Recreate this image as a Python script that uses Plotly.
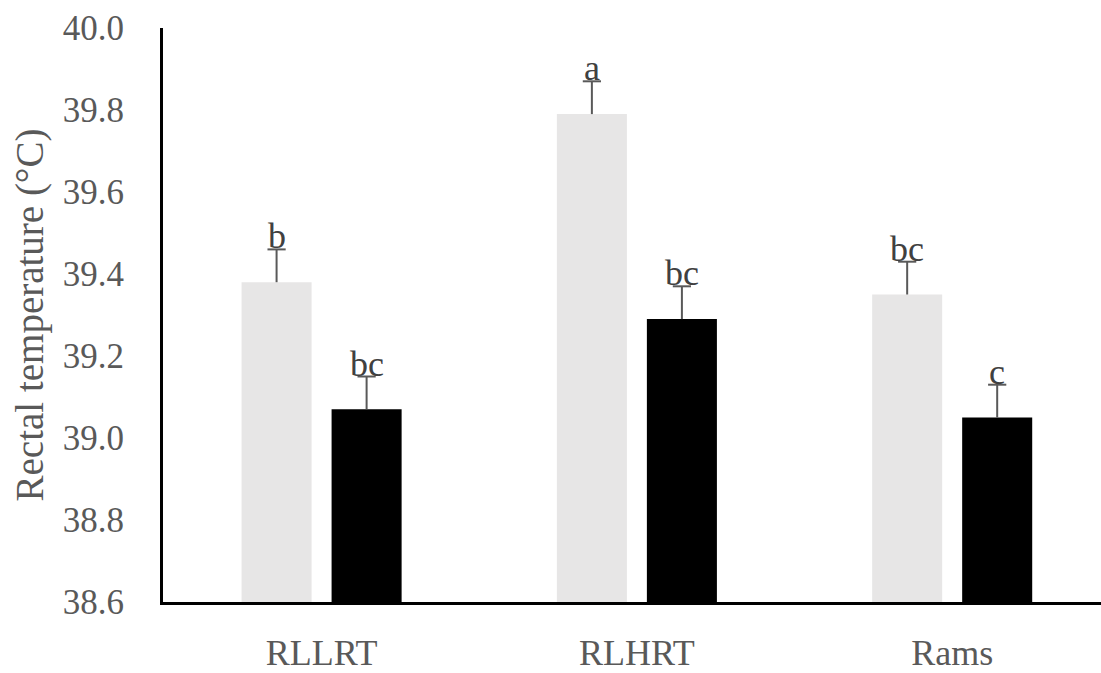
import plotly.graph_objects as go

# Rectal temperature by group, two treatment series
groups = ["RLLRT", "RLHRT", "Rams"]
light_means = [39.38, 39.79, 39.35]
light_se = [0.08, 0.08, 0.08]
light_letters = ["b", "a", "bc"]
dark_means = [39.07, 39.29, 39.05]
dark_se = [0.08, 0.08, 0.08]
dark_letters = ["bc", "bc", "c"]

y_ticks = [38.6, 38.8, 39.0, 39.2, 39.4, 39.6, 39.8, 40.0]

SERIF = "Liberation Serif"
GREY_TXT = "#595959"
ERR_COL = "#595959"

BARGAP = 0.429
GROUPGAP = 0.222
slot = (1 - BARGAP) / 2

pos = list(range(len(groups)))

fig = go.Figure()

series = [
    (light_means, light_se, light_letters, "#e7e6e6"),
    (dark_means, dark_se, dark_letters, "#000000"),
]

for k, (means, se, letters, color) in enumerate(series):
    fig.add_trace(go.Bar(
        x=pos, y=means,
        marker=dict(color=color, line=dict(width=0)),
        showlegend=False,
    ))

# Upper error bars (stem + cap) and significance letters
for k, (means, se, letters, color) in enumerate(series):
    xs, ys, cx, cy = [], [], [], []
    for i in pos:
        xc = i + (k - 0.5) * slot
        top = means[i] + se[i]
        xs += [xc, xc, None]
        ys += [means[i], top, None]
        cx.append(xc)
        cy.append(top)
        fig.add_annotation(
            x=xc, y=top, xref="x", yref="y",
            text=letters[i], showarrow=False,
            yanchor="bottom", yshift=-9,
            font=dict(family=SERIF, size=36, color="#404040"),
        )
    fig.add_trace(go.Scatter(
        x=xs, y=ys, mode="lines",
        line=dict(color=ERR_COL, width=2),
        hoverinfo="skip", showlegend=False,
    ))
    fig.add_trace(go.Scatter(
        x=cx, y=cy, mode="markers",
        marker=dict(symbol="line-ew", size=13,
                    line=dict(color=ERR_COL, width=2)),
        hoverinfo="skip", showlegend=False,
    ))

fig.update_layout(
    width=1101, height=673,
    margin=dict(l=163, r=0, t=28, b=65),
    paper_bgcolor="white", plot_bgcolor="white",
    barmode="group", bargap=BARGAP, bargroupgap=GROUPGAP,
    xaxis=dict(
        range=[-0.503, 2.472], tickvals=pos, ticktext=groups,
        showline=True, linecolor="black", linewidth=3,
        showgrid=False, zeroline=False, ticks="", ticklabelstandoff=17,
        tickfont=dict(family=SERIF, size=36, color=GREY_TXT),
    ),
    yaxis=dict(
        range=[38.6, 40.0], tickvals=y_ticks, tickformat=".1f",
        showline=True, linecolor="black", linewidth=3,
        showgrid=False, zeroline=False, ticks="", ticklabelstandoff=29,
        tickfont=dict(family=SERIF, size=35, color=GREY_TXT),
        title=dict(text="Rectal temperature (°C)", standoff=8,
                   font=dict(family=SERIF, size=39, color=GREY_TXT)),
    ),
)

fig.write_html("out.html")
